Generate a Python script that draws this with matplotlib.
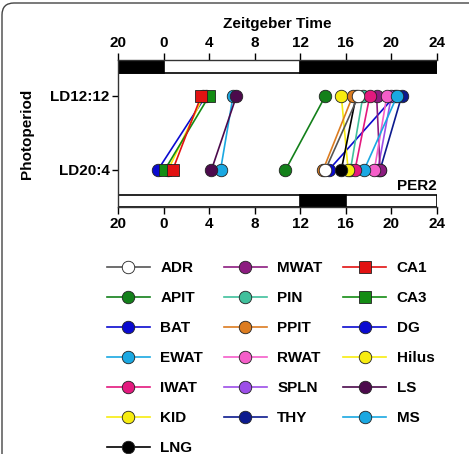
import matplotlib
matplotlib.use('Agg')
import matplotlib.pyplot as plt
from matplotlib.patches import Rectangle, FancyBboxPatch

plt.rcParams['font.family'] = ['Liberation Sans', 'DejaVu Sans']
plt.rcParams['font.weight'] = 'bold'

# ── data ──────────────────────────────────────────────────────────────────────
tissues = ['ADR', 'APIT', 'BAT', 'EWAT', 'IWAT', 'KID', 'LNG',
           'MWAT', 'PIN', 'PPIT', 'RWAT', 'SPLN', 'THY',
           'CA1', 'CA3', 'DG', 'Hilus', 'LS', 'MS']
# peak phase (ZT, h) of PER2 under each photoperiod
ld12 = [17.1, 14.2, 20.3, 20.5, 18.1, 15.6, 16.9,
        18.7, 17.5, 16.6, 19.6, 20.0, 20.9,
        3.3, 4.0, 3.7, 3.5, 6.4, 6.1]
ld20 = [14.2, 10.7, 14.5, 17.6, 16.8, 16.2, 15.6,
        19.0, 16.4, 14.0, 18.5, 18.8, 19.0,
        0.8, 0.1, -0.5, 0.4, 4.2, 5.0]
colors = ['white', '#13801a', '#0a0ad0', '#1aa8e2', '#e3197e', '#f7ec10', 'black',
          '#8c1c80', '#40c09c', '#dc7c20', '#f55ec9', '#9c4ee8', '#0c1a8e',
          '#e21212', '#148c14', '#0a0ad0', '#f7ec10', '#4c0a4c', '#1aa8e2']
line_colors = colors.copy()
line_colors[0] = '#555555'
markers = ['o'] * 13 + ['s', 's'] + ['o'] * 4

rows = ['LD12:12', 'LD20:4']
xticks = [-4, 0, 4, 8, 12, 16, 20, 24]
xticklabels = ['20', '0', '4', '8', '12', '16', '20', '24']
top_dark = [(-4, 0), (12, 24)]      # LD12:12 light/dark bar
bottom_dark = [(12, 16)]            # LD20:4 light/dark bar

draw_order = ['THY', 'DG', 'BAT', 'SPLN', 'MWAT', 'RWAT', 'EWAT', 'PIN', 'IWAT',
              'KID', 'LNG', 'PPIT', 'APIT', 'ADR', 'Hilus', 'CA3', 'CA1', 'MS', 'LS']

# ── figure ────────────────────────────────────────────────────────────────────
fig = plt.figure(figsize=(4.69, 4.54), dpi=100)
# panel outline, in pixels (only top/left edges fall inside the picture)
fig.patches.append(FancyBboxPatch((2, -100), 600, 551,
                                  boxstyle='round,pad=0,rounding_size=12',
                                  transform=None, fill=False,
                                  ec='#444444', lw=1.0))

ax = fig.add_axes([0.2516, 0.5441, 0.6802, 0.3238])
ax.set_xlim(-4, 24)
ax.set_ylim(-0.5, 1.486)

handles = {}
for name in draw_order:
    i = tissues.index(name)
    h, = ax.plot([ld12[i], ld20[i]], [1, 0], color=line_colors[i], lw=1.2,
                 marker=markers[i], ms=9, mfc=colors[i], mec='#222222',
                 mew=0.6, clip_on=False)
    handles[name] = h

# light/dark bars
for y0, y1, dark in [(1.311, 1.486, top_dark), (-0.5, -0.338, bottom_dark)]:
    ax.add_patch(Rectangle((-4, y0), 28, y1 - y0, fc='white', ec='black', lw=1.2))
    for a, b in dark:
        ax.add_patch(Rectangle((a, y0), b - a, y1 - y0, fc='black', ec='black', lw=1.2))

ax.spines['right'].set_visible(False)
for s in ['top', 'bottom', 'left']:
    ax.spines[s].set_linewidth(1.0)
    ax.spines[s].set_color('#333333')

ax.set_xticks(xticks)
ax.set_xticklabels(xticklabels)
ax.tick_params(axis='x', top=True, labeltop=True, bottom=True, labelbottom=True,
               direction='out', length=5, width=1, labelsize=11, pad=2)
ax.set_yticks([1, 0])
ax.set_yticklabels(rows)
ax.tick_params(axis='y', direction='out', length=4, width=1, labelsize=11, pad=2)
for lbl in ax.get_xticklabels() + ax.get_yticklabels():
    lbl.set_fontweight('bold')

ax.set_ylabel('Photoperiod', fontsize=11, fontweight='bold', labelpad=12)
ax.xaxis.set_label_position('top')
ax.set_xlabel('Zeitgeber Time', fontsize=11, fontweight='bold', labelpad=6)
ax.text(24, -0.31, 'PER2', ha='right', va='bottom', fontsize=11, fontweight='bold')

leg = fig.legend([handles[t] for t in tissues], tissues, ncol=3,
                 loc='upper left', bbox_to_anchor=(0.228, 0.425),
                 frameon=False, prop={'weight': 'bold', 'size': 11},
                 handlelength=2.8, handletextpad=0.7, labelspacing=1.05,
                 columnspacing=1.35, borderpad=0, borderaxespad=0)

fig.savefig('out.png', dpi=100)
